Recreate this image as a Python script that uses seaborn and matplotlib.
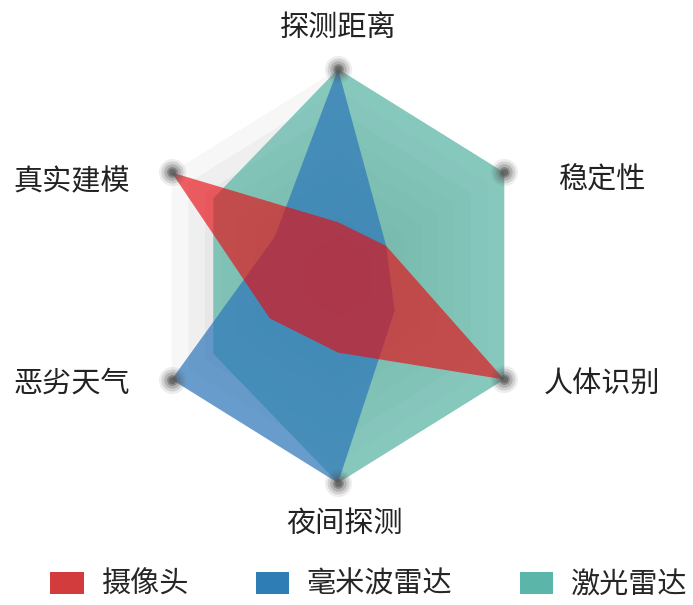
import numpy as np
import matplotlib
matplotlib.use("Agg")
import matplotlib.pyplot as plt
from matplotlib.patches import Patch
import seaborn as sns

sns.set_theme(style="white")
plt.rcParams['font.family'] = ['Noto Sans CJK SC', 'DejaVu Sans']

# axes, clockwise from the top
dimensions = ['探测距离', '稳定性', '人体识别', '夜间探测', '恶劣天气', '真实建模']
series_names = ['激光雷达', '毫米波雷达', '摄像头']
lidar = [1.0, 1.0, 1.0, 1.0, 0.75, 0.75]
mmwave = [1.0, 0.29, 0.34, 1.0, 1.0, 0.38]
camera = [0.26, 0.29, 1.0, 0.37, 0.41, 1.0]
grid_levels = [0.1, 0.2, 0.3, 0.4, 0.5, 0.6, 0.7, 0.8, 0.9, 1.0]

colors = {'摄像头': '#E60C12', '毫米波雷达': '#2C76BA', '激光雷达': '#5CB6A7'}
alphas = {'摄像头': 0.65, '毫米波雷达': 0.7, '激光雷达': 0.72}
legend_colors = {'摄像头': '#D23C3C', '毫米波雷达': '#2E7DB5', '激光雷达': '#5BB5A8'}

angles = np.deg2rad(np.arange(len(dimensions)) * 60)


def to_xy(vals):
    vals = np.asarray(vals)
    return vals * np.sin(angles), vals * np.cos(angles)


W, H = 693, 605
fig = plt.figure(figsize=(W / 100, H / 100), dpi=100)
# centre of the hexagon in pixels, px per unit in x and y
cx, cy = 338, H - 276
sx, sy = 192, 207
half = 250
ax = fig.add_axes([(cx - half) / W, (cy - half) / H, 2 * half / W, 2 * half / H])
ax.set_xlim(-half / sx, half / sx)
ax.set_ylim(-half / sy, half / sy)
ax.axis('off')

# grey background hexagons, stacked so the middle gets darker
for lvl in grid_levels:
    gx, gy = to_xy([lvl] * 6)
    ax.fill(gx, gy, color='black', alpha=0.03, lw=0, zorder=1)

data = {'激光雷达': lidar, '毫米波雷达': mmwave, '摄像头': camera}
for i, name in enumerate(series_names):
    x, y = to_xy(data[name])
    ax.fill(x, y, color=colors[name], alpha=alphas[name], lw=0, zorder=2 + i)

# soft grey dots at the axis ends
vx, vy = to_xy([1.0] * 6)
for s, a in [(380, 0.10), (250, 0.18), (140, 0.25), (60, 0.45), (25, 0.6)]:
    ax.scatter(vx, vy, s=s, color='#555555', alpha=a, lw=0, zorder=10)

label_pos = [(0.0, 1.20), (1.375, 0.46), (1.375, -0.52),
             (0.036, -1.20), (-1.385, -0.52), (-1.385, 0.455)]
for name, (lx, ly) in zip(dimensions, label_pos):
    ax.text(lx, ly, name, ha='center', va='center', fontsize=21,
            color='#222222', clip_on=False)

handles = [Patch(facecolor=legend_colors[n], edgecolor='none', label=n)
           for n in ['摄像头', '毫米波雷达', '激光雷达']]
fig.legend(handles=handles, loc='center', bbox_to_anchor=(0.532, 0.033), ncol=3,
           frameon=False, fontsize=21, handlelength=1.15, handleheight=0.8,
           columnspacing=2.3, handletextpad=0.6, borderpad=0.2)

fig.savefig('out.png', dpi=100)
